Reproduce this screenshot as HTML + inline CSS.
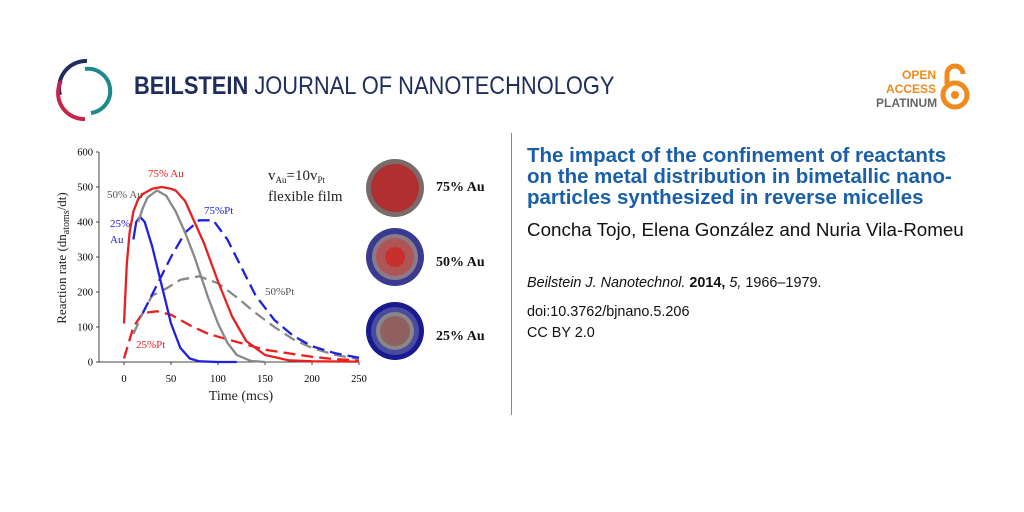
<!DOCTYPE html>
<html><head><meta charset="utf-8"><style>
body{margin:0;width:1024px;height:512px;background:#fff;position:relative;overflow:hidden;font-family:"Liberation Sans",sans-serif}
.a{position:absolute}
</style></head><body>
<svg class="a" style="left:55px;top:55px" width="60" height="70" viewBox="0 0 60 70">
<path d="M32 6 A27 27 0 0 0 5 40" stroke="#1f2d5c" stroke-width="4" fill="none"/>
<path d="M6 26 A26 26 0 0 0 30 64" stroke="#c8244b" stroke-width="4" fill="none"/>
<path d="M30 14 A21 21 0 0 1 36 58" stroke="#1c8a8c" stroke-width="4" fill="none"/>
</svg>
<div class="a" style="left:134px;top:72px;font-size:25px;color:#1f2d5c;transform:scaleX(0.875);transform-origin:0 0;white-space:nowrap"><b>BEILSTEIN</b> JOURNAL OF NANOTECHNOLOGY</div>
<div class="a" style="left:876px;top:68px;font-size:12px;font-weight:bold;text-align:right;line-height:14px;width:60px"><span style="color:#f08a1c">OPEN<br>ACCESS</span><br><span style="color:#666">PLATINUM</span></div>
<svg class="a" style="left:938px;top:60px" width="34" height="52"><path d="M9 24 V14 A8 8 0 0 1 25 14" stroke="#f08a1c" stroke-width="5" fill="none"/><circle cx="17" cy="35" r="12" stroke="#f08a1c" stroke-width="5" fill="none"/><circle cx="17" cy="35" r="4" fill="#f08a1c"/></svg>
<div class="a" style="left:511px;top:133px;width:1px;height:282px;background:#888"></div>
<div class="a" style="left:527px;top:145px;font-size:20.5px;font-weight:bold;color:#1a5fa8;line-height:21px;white-space:nowrap">The impact of the confinement of reactants<br>on the metal distribution in bimetallic nano-<br>particles synthesized in reverse micelles</div>
<div class="a" style="left:527px;top:219px;font-size:18.8px;color:#111;white-space:nowrap">Concha Tojo, Elena González and Nuria Vila-Romeu</div>
<div class="a" style="left:527px;top:275px;font-size:14.4px;color:#111;white-space:nowrap"><i>Beilstein J. Nanotechnol.</i> <b>2014,</b> <i>5,</i> 1966–1979.</div>
<div class="a" style="left:527px;top:304px;font-size:14.4px;color:#111">doi:10.3762/bjnano.5.206</div>
<div class="a" style="left:527px;top:325px;font-size:14.4px;color:#111">CC BY 2.0</div>
<svg class="a" id="chart" style="left:0;top:0" width="512" height="420" font-family="Liberation Serif, serif"></svg>
<script>
const xTicks=[0,50,100,150,200,250];
const yTicks=[0,100,200,300,400,500,600];
const au75T=[0,3,6,10,15,20,30,40,50,55,65,75,85,100,115,130,150,175,200,250];
const au75V=[110,280,370,430,465,480,495,500,495,490,460,400,340,230,130,60,20,5,2,1];
const au50T=[15,20,25,35,45,55,65,75,90,100,110,120,135,150];
const au50V=[400,440,470,490,475,430,370,300,180,110,55,20,3,0];
const au25T=[10,13,17,22,30,40,50,60,70,80,100,120];
const au25V=[350,400,415,400,330,220,110,40,10,2,0,0];
const pt75T=[20,35,50,65,80,95,110,125,140,160,180,200,225,250];
const pt75V=[140,220,300,370,405,405,350,270,190,120,75,45,25,12];
const pt50T=[10,20,30,45,60,80,100,120,140,160,180,200,225,250];
const pt50V=[80,140,190,210,235,245,225,185,140,100,65,40,20,8];
const pt25T=[0,10,20,35,50,70,90,110,130,150,175,200,225,250];
const pt25V=[10,100,140,145,135,105,80,65,50,35,25,15,8,5];
const X=t=>124+t*0.94, Y=v=>362-v*0.35;
const svg=document.getElementById('chart'),NS='http://www.w3.org/2000/svg';
function mk(tag,a,p){const e=document.createElementNS(NS,tag);for(const k in a)e.setAttribute(k,a[k]);(p||svg).appendChild(e);return e;}
let ax=mk('line',{x1:99,y1:Y(600),x2:99,y2:Y(0),stroke:'#444'});

let bx=mk('line',{x1:99,y1:Y(0),x2:359,y2:Y(0),stroke:'#444'});

yTicks.forEach(v=>{mk('line',{x1:96,x2:99,y1:Y(v),y2:Y(v),stroke:'#444'});
 const t=mk('text',{x:93,y:Y(v)+3.5,'text-anchor':'end','font-size':10.5});t.textContent=v;
 });
xTicks.forEach(v=>{mk('line',{x1:X(v),x2:X(v),y1:Y(0),y2:Y(0)+3,stroke:'#444'});
 const t=mk('text',{x:X(v),y:Y(0)+20,'text-anchor':'middle','font-size':10.5});t.textContent=v;
 });
function series(T,V,c,dash,name){const d=T.map((t,i)=>(i?'L':'M')+X(t).toFixed(1)+' '+Y(V[i]).toFixed(1)).join('');
 const p=mk('path',{d:d,stroke:c,'stroke-width':2.3,fill:'none','stroke-dasharray':dash?'12 6':'none','stroke-linejoin':'round'});
 }
series(pt25T,pt25V,'#e82020',1,'series-25-pt');
series(pt50T,pt50V,'#888',1,'series-50-pt');
series(pt75T,pt75V,'#2020e0',1,'series-75-pt');
series(au25T,au25V,'#2020e0',0,'series-25-au');
series(au50T,au50V,'#888',0,'series-50-au');
series(au75T,au75V,'#e82020',0,'series-75-au');
function lab(x,y,s,c,fs,name,extra){const t=mk('text',Object.assign({x:x,y:y,fill:c,'font-size':fs},extra||{}));t.innerHTML=s;
 }
lab(148,177,'75% Au','#e82020',11,'label-75-au');
lab(107,198,'50% Au','#555',11,'label-50-au');
lab(110,227,'25%','#2020e0',11,'label-25-au');
lab(110,243,'Au','#2020e0',11,'label-25-au-2');
lab(204,214,'75%Pt','#2020e0',11,'label-75-pt');
lab(265,295,'50%Pt','#555',11,'label-50-pt');
lab(136,348,'25%Pt','#e82020',11,'label-25-pt');
lab(268,180,'v<tspan font-size="9" dy="3">Au</tspan><tspan dy="-3">=10v</tspan><tspan font-size="9" dy="3">Pt</tspan>','#222',15,'annotation-velocity');
lab(268,201,'flexible film','#222',15,'annotation-film');
lab(241,400,'Time (mcs)','#222',14,'x-axis-title',{'text-anchor':'middle'});
lab(0,0,'Reaction rate (dn<tspan font-size="10" dy="3">atoms</tspan><tspan dy="-3">/dt)</tspan>','#222',13,'y-axis-title',{transform:'translate(66,258) rotate(-90)','text-anchor':'middle'});
const circ=[[188,[['#7a6a6a',29],['#b02f30',24]]],[257,[['#3a3a90',29],['#8a7a8a',23],['#b05555',19],['#c83030',10]]],[331,[['#1a1a90',29],['#4a4aa0',24],['#888',19],['#906060',15]]]];
circ.forEach((c,i)=>{c[1].forEach(r=>{const e=mk('circle',{cx:395,cy:c[0],r:r[1],fill:r[0]});
 });});
lab(436,191,'75% Au','#111',14,'particle-label-75',{'font-weight':'bold'});
lab(436,266,'50% Au','#111',14,'particle-label-50',{'font-weight':'bold'});
lab(436,340,'25% Au','#111',14,'particle-label-25',{'font-weight':'bold'});
</script>
</body></html>
